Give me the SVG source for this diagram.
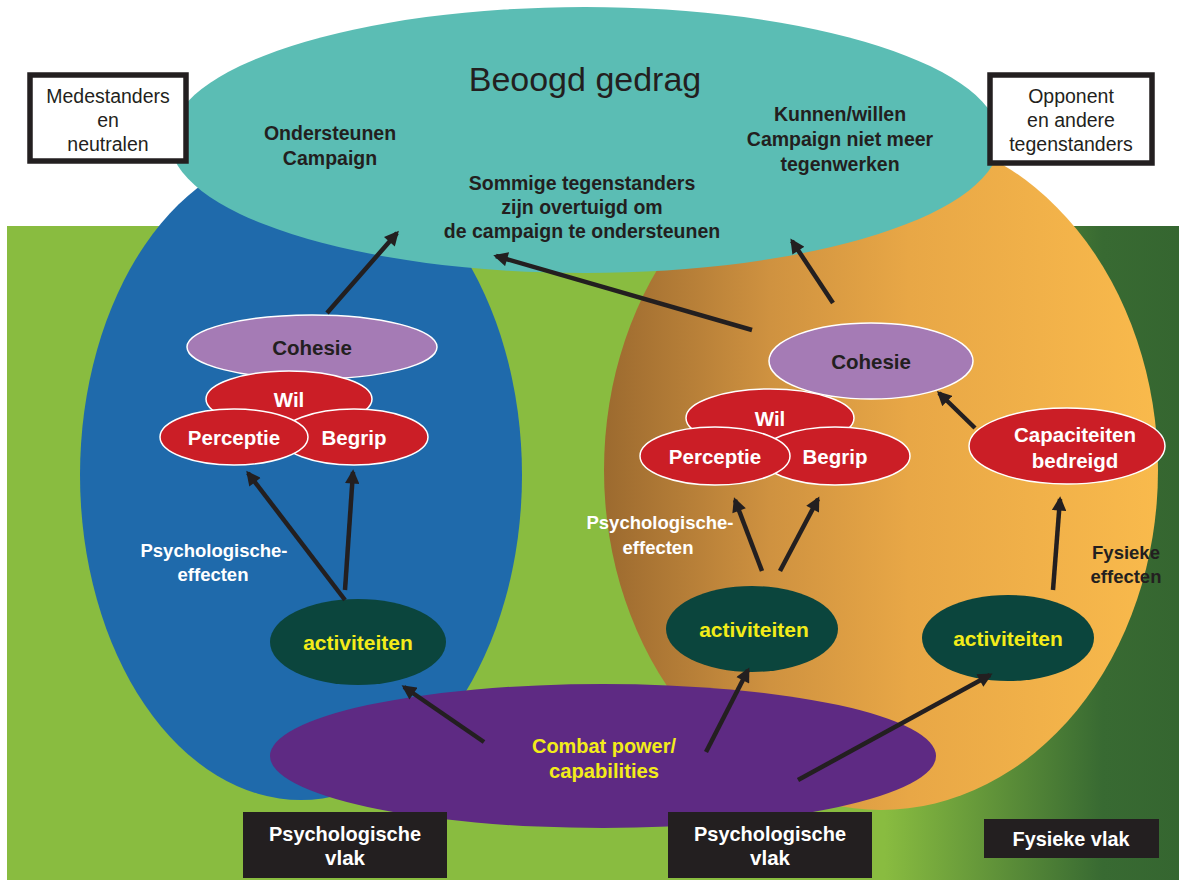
<svg xmlns="http://www.w3.org/2000/svg" width="1179" height="882" viewBox="0 0 1179 882">
<style>
text{font-family:"Liberation Sans",Arial,sans-serif;text-anchor:middle}
.b{font-weight:bold}
.n{font-family:"Liberation Sans Narrow","Liberation Sans",Arial,sans-serif;font-weight:bold}
.dk{fill:#231f20}
.wh{fill:#ffffff}
.ye{fill:#f3ec19}
.red{fill:#cb1e26;stroke:#ffffff;stroke-width:1.5}
.coh{fill:#a57bb5;stroke:#ffffff;stroke-width:1.5}
.act{fill:#0b453d}
.box{fill:#ffffff;stroke:#231f20;stroke-width:5.5}
.blk{fill:#231f20}
.con{stroke:#231f20;stroke-width:4.5;fill:none;marker-end:url(#ah)}
</style>
<defs>
<linearGradient id="bg" x1="0" y1="0" x2="1179" y2="0" gradientUnits="userSpaceOnUse">
<stop offset="0" stop-color="#89bc40"/>
<stop offset="0.75" stop-color="#89bc40"/>
<stop offset="0.935" stop-color="#386a32"/>
<stop offset="1" stop-color="#356630"/>
</linearGradient>
<linearGradient id="or" x1="604" y1="0" x2="1158" y2="0" gradientUnits="userSpaceOnUse">
<stop offset="0" stop-color="#9c6a2f"/>
<stop offset="0.3" stop-color="#cf9240"/>
<stop offset="0.55" stop-color="#e8a746"/>
<stop offset="1" stop-color="#f9ba4c"/>
</linearGradient>
<marker id="ah" viewBox="0 0 10 10" refX="8" refY="5" markerWidth="3.4" markerHeight="3.2" orient="auto" markerUnits="strokeWidth">
<path d="M0,0 L10,5 L0,10 z" fill="#231f20"/>
</marker>
</defs>
<rect width="1179" height="882" fill="#ffffff"/>
<rect x="7" y="226" width="1172" height="654" fill="url(#bg)"/>
<g id="blue-area"><ellipse cx="301" cy="475" rx="221" ry="325" fill="#1f6aab"/></g>
<g id="orange-area"><ellipse cx="881" cy="470" rx="277" ry="340" fill="url(#or)"/></g>
<g id="beoogd-gedrag">
<ellipse cx="585" cy="140" rx="415" ry="133" fill="#5bbdb4"/>
<text x="585" y="91" font-size="34" class="dk">Beoogd gedrag</text>
<text x="330" y="140" font-size="19.5" class="b dk">Ondersteunen</text>
<text x="330" y="165" font-size="19.5" class="b dk">Campaign</text>
<text x="840" y="121" font-size="19.5" class="b dk">Kunnen/willen</text>
<text x="840" y="146" font-size="19.5" class="b dk">Campaign niet meer</text>
<text x="840" y="171" font-size="19.5" class="b dk">tegenwerken</text>
<text x="582" y="190" font-size="19.5" class="b dk">Sommige tegenstanders</text>
<text x="582" y="214" font-size="19.5" class="b dk">zijn overtuigd om</text>
<text x="582" y="238" font-size="19.5" class="b dk">de campaign te ondersteunen</text>
</g>
<g id="box-medestanders">
<rect x="30" y="75" width="156" height="86" class="box"/>
<text x="108" y="103" font-size="19.5" class="dk">Medestanders</text>
<text x="108" y="127" font-size="19.5" class="dk">en</text>
<text x="108" y="151" font-size="19.5" class="dk">neutralen</text>
</g>
<g id="box-opponent">
<rect x="990" y="75" width="162" height="88" class="box"/>
<text x="1071" y="103" font-size="19.5" class="dk">Opponent</text>
<text x="1071" y="127" font-size="19.5" class="dk">en andere</text>
<text x="1071" y="151" font-size="19.5" class="dk">tegenstanders</text>
</g>
<g id="combat-power">
<ellipse cx="603" cy="756" rx="333" ry="72" fill="#5e2a83"/>
<text x="604" y="753" font-size="21" class="n ye" textLength="144" lengthAdjust="spacingAndGlyphs">Combat power/</text>
<text x="604" y="778" font-size="21" class="n ye" textLength="110" lengthAdjust="spacingAndGlyphs">capabilities</text>
</g>
<g id="left-cohesie"><ellipse cx="312" cy="347" rx="125" ry="32" class="coh"/><text x="312" y="355" font-size="20.5" class="b dk">Cohesie</text></g>
<g id="left-wil"><ellipse cx="289" cy="399" rx="83" ry="28" class="red"/><text x="289" y="407" font-size="20.5" class="b wh">Wil</text></g>
<g id="left-begrip"><ellipse cx="354" cy="437" rx="74" ry="28" class="red"/><text x="354" y="445" font-size="20.5" class="b wh">Begrip</text></g>
<g id="left-perceptie"><ellipse cx="234" cy="437" rx="74" ry="28" class="red"/><text x="234" y="445" font-size="20.5" class="b wh">Perceptie</text></g>
<g id="left-activiteiten"><ellipse cx="358" cy="642" rx="88" ry="43" class="act"/><text x="358" y="650" font-size="21" class="b ye">activiteiten</text></g>
<g id="right-cohesie"><ellipse cx="871" cy="361" rx="102" ry="38" class="coh"/><text x="871" y="369" font-size="20.5" class="b dk">Cohesie</text></g>
<g id="right-wil"><ellipse cx="770" cy="418" rx="84" ry="29" class="red"/><text x="770" y="426" font-size="20.5" class="b wh">Wil</text></g>
<g id="right-begrip"><ellipse cx="835" cy="456" rx="75" ry="29" class="red"/><text x="835" y="464" font-size="20.5" class="b wh">Begrip</text></g>
<g id="right-perceptie"><ellipse cx="715" cy="456" rx="75" ry="29" class="red"/><text x="715" y="464" font-size="20.5" class="b wh">Perceptie</text></g>
<g id="capaciteiten"><ellipse cx="1067" cy="446" rx="98" ry="38" class="red"/><text x="1075" y="442" font-size="20.5" class="b wh">Capaciteiten</text><text x="1075" y="468" font-size="20.5" class="b wh">bedreigd</text></g>
<g id="right-activiteiten-1"><ellipse cx="752" cy="629" rx="86" ry="43" class="act"/><text x="754" y="637" font-size="21" class="b ye">activiteiten</text></g>
<g id="right-activiteiten-2"><ellipse cx="1008" cy="638" rx="86" ry="43" class="act"/><text x="1008" y="646" font-size="21" class="b ye">activiteiten</text></g>
<g id="labels">
<text x="214" y="557" font-size="18.5" class="b wh">Psychologische-</text>
<text x="213" y="581" font-size="18.5" class="b wh">effecten</text>
<text x="660" y="529" font-size="18.5" class="b wh">Psychologische-</text>
<text x="658" y="554" font-size="18.5" class="b wh">effecten</text>
<text x="1126" y="559" font-size="18.5" class="b dk">Fysieke</text>
<text x="1126" y="583" font-size="18.5" class="b dk">effecten</text>
</g>
<g id="vlak-1"><rect x="243" y="812" width="204" height="66" class="blk"/><text x="345" y="841" font-size="21" class="n wh" textLength="152" lengthAdjust="spacingAndGlyphs">Psychologische</text><text x="345" y="865" font-size="21" class="n wh" textLength="40" lengthAdjust="spacingAndGlyphs">vlak</text></g>
<g id="vlak-2"><rect x="668" y="812" width="204" height="66" class="blk"/><text x="770" y="841" font-size="21" class="n wh" textLength="152" lengthAdjust="spacingAndGlyphs">Psychologische</text><text x="770" y="865" font-size="21" class="n wh" textLength="40" lengthAdjust="spacingAndGlyphs">vlak</text></g>
<g id="vlak-3"><rect x="984" y="819" width="175" height="39" class="blk"/><text x="1071" y="846" font-size="21" class="n wh" textLength="117" lengthAdjust="spacingAndGlyphs">Fysieke vlak</text></g>
<g id="connectors">
<line x1="327" y1="313" x2="397" y2="233" class="con"/>
<line x1="833" y1="303" x2="792" y2="241" class="con"/>
<line x1="752" y1="330" x2="496" y2="256" class="con"/>
<line x1="345" y1="600" x2="248" y2="473" class="con"/>
<line x1="345" y1="590" x2="353" y2="472" class="con"/>
<line x1="762" y1="571" x2="735" y2="500" class="con"/>
<line x1="780" y1="571" x2="818" y2="499" class="con"/>
<line x1="975" y1="428" x2="939" y2="393" class="con"/>
<line x1="1053" y1="590" x2="1060" y2="499" class="con"/>
<line x1="484" y1="742" x2="404" y2="687" class="con"/>
<line x1="706" y1="752" x2="748" y2="670" class="con"/>
<line x1="798" y1="780" x2="990" y2="675" class="con"/>
</g>
</svg>
